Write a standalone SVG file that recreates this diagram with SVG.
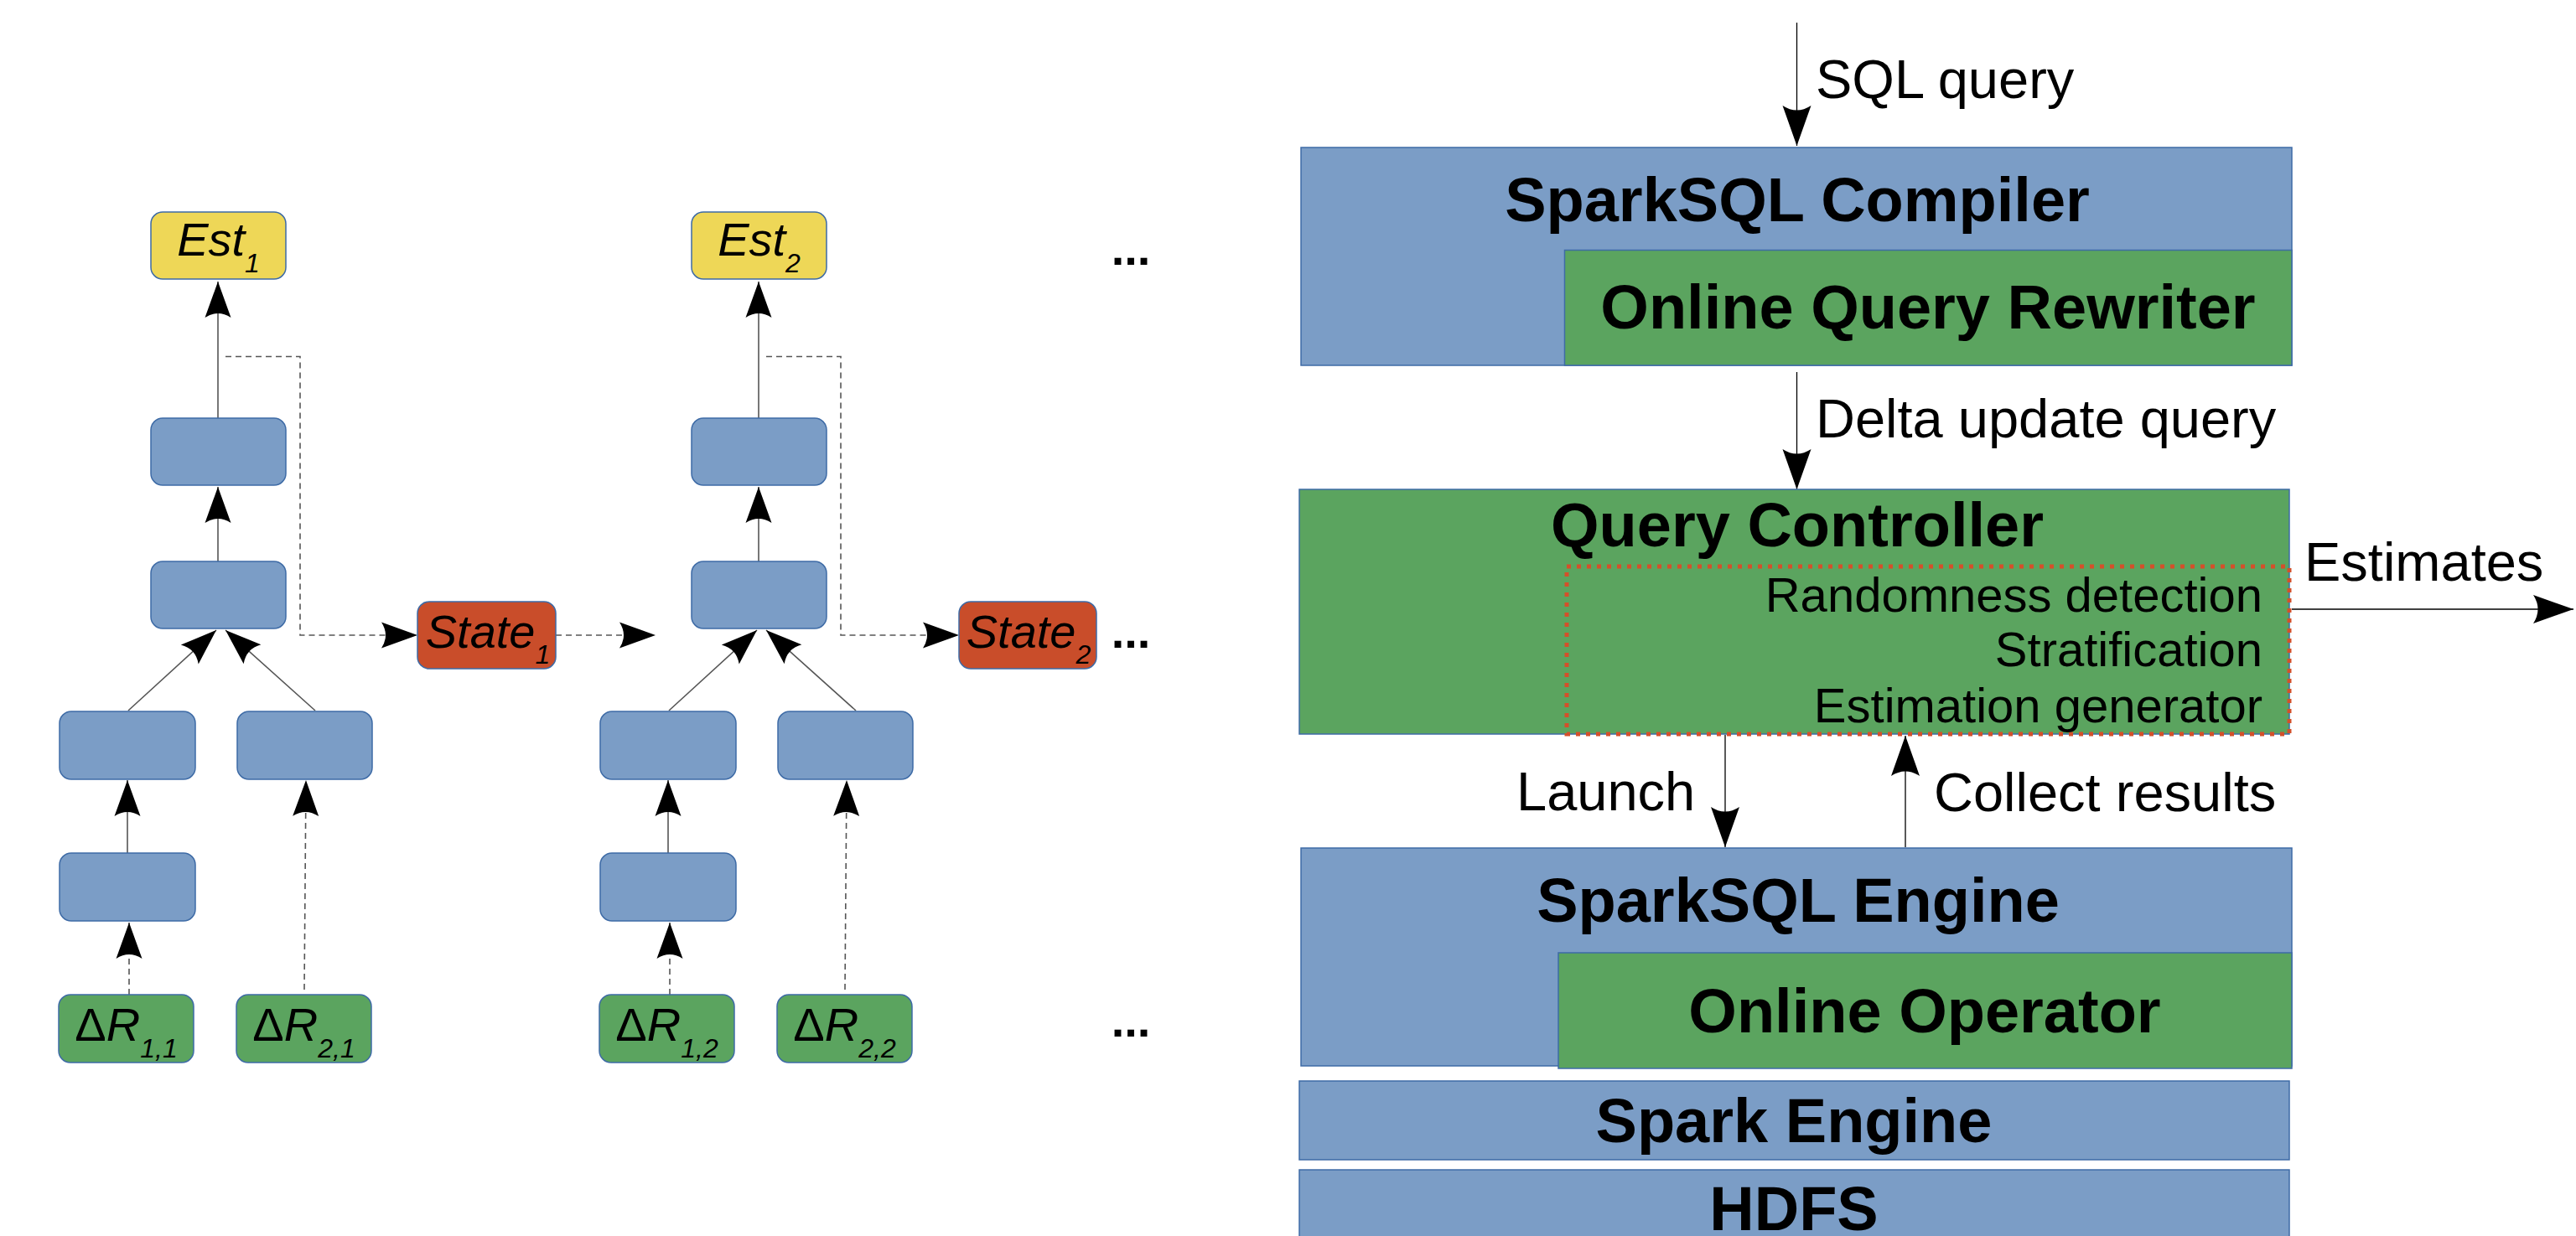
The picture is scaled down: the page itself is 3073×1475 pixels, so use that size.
<svg xmlns="http://www.w3.org/2000/svg" width="3073" height="1475" viewBox="0 0 3073 1475">
<style>
.blue{fill:#7b9dc6;stroke:#3e6ba6;stroke-width:1.5}
.green{fill:#5ba45f;stroke:#3e6ba6;stroke-width:1.5}
.yellow{fill:#eed757;stroke:#3e6ba6;stroke-width:1.5}
.orange{fill:#c94d2a;stroke:#3e6ba6;stroke-width:1.5}
.it{font-family:"Liberation Sans",Arial,sans-serif;font-style:italic;font-size:56px;fill:#000;text-anchor:middle}
.up{font-style:normal}
.sub{font-size:32px}
.dots{font-family:"Liberation Sans",Arial,sans-serif;font-weight:bold;font-size:56px;fill:#000;text-anchor:middle}
.title{font-family:"Liberation Sans",Arial,sans-serif;font-weight:bold;font-size:74px;fill:#000;text-anchor:middle}
.lbl{font-family:"Liberation Sans",Arial,sans-serif;font-size:65px;fill:#000}
.item{font-family:"Liberation Sans",Arial,sans-serif;font-size:58px;fill:#000;text-anchor:end}
.solid{fill:none;stroke:#555;stroke-width:1.6}
.dash{fill:none;stroke:#555;stroke-width:1.6;stroke-dasharray:7 5}
.blk{fill:none;stroke:#000;stroke-width:1.3}
.dotbox{fill:none;stroke:#d4502a;stroke-width:5;stroke-dasharray:5 7}
</style>
<defs>
<marker id="ah" viewBox="-45 -17 46 34" refX="0" refY="0" markerWidth="46" markerHeight="34" markerUnits="userSpaceOnUse" orient="auto">
<path d="M0,0 L-43,-15.5 Q-33,0 -43,15.5 Z" fill="#000"/>
</marker>
<marker id="ahL" viewBox="-50 -19 51 38" refX="0" refY="0" markerWidth="51" markerHeight="38" markerUnits="userSpaceOnUse" orient="auto">
<path d="M0,0 L-48,-17 Q-37,0 -48,17 Z" fill="#000"/>
</marker>
</defs>
<rect width="3073" height="1475" fill="#fff"/>

<g id="connectors">
<path class="solid" d="M260,499 V336" marker-end="url(#ah)"/>
<path class="solid" d="M260,670 V581" marker-end="url(#ah)"/>
<path class="solid" d="M153,848 L258,752" marker-end="url(#ah)"/>
<path class="solid" d="M376,848 L269,752" marker-end="url(#ah)"/>
<path class="solid" d="M152,1018 V931" marker-end="url(#ah)"/>
<path class="dash" d="M154,1187 V1101" marker-end="url(#ah)"/>
<path class="dash" d="M363,1181 L365,931" marker-end="url(#ah)"/>
<path class="dash" d="M269,425.5 H358 V758 H498" marker-end="url(#ah)"/>
<path class="dash" d="M663,758 H782" marker-end="url(#ah)"/>
<path class="solid" d="M905,499 V336" marker-end="url(#ah)"/>
<path class="solid" d="M905,670 V581" marker-end="url(#ah)"/>
<path class="solid" d="M798,848 L903,752" marker-end="url(#ah)"/>
<path class="solid" d="M1021,848 L914,752" marker-end="url(#ah)"/>
<path class="solid" d="M797,1018 V931" marker-end="url(#ah)"/>
<path class="dash" d="M799,1187 V1101" marker-end="url(#ah)"/>
<path class="dash" d="M1008,1181 L1010,931" marker-end="url(#ah)"/>
<path class="dash" d="M914,425.5 H1003 V758 H1144" marker-end="url(#ah)"/>
<path class="blk" d="M2143.5,27 V174" marker-end="url(#ahL)"/>
<path class="blk" d="M2143.5,444 V584" marker-end="url(#ahL)"/>
<path class="blk" d="M2734,727 H3070" marker-end="url(#ahL)"/>
<path class="blk" d="M2058,877 V1011" marker-end="url(#ahL)"/>
<path class="blk" d="M2273,1011 V878" marker-end="url(#ahL)"/>
</g>

<g id="est1"><rect class="yellow" x="180" y="253" width="161" height="80" rx="14"/><text class="it" x="260.5" y="305">Est<tspan class="sub" dy="20">1</tspan></text></g>
<g id="op1a"><rect class="blue" x="180" y="499" width="161" height="80" rx="14"/></g>
<g id="op1b"><rect class="blue" x="180" y="670" width="161" height="80" rx="14"/></g>
<g id="op1c"><rect class="blue" x="71" y="849" width="162" height="81" rx="14"/></g>
<g id="op1d"><rect class="blue" x="283" y="849" width="161" height="81" rx="14"/></g>
<g id="op1e"><rect class="blue" x="71" y="1018" width="162" height="81" rx="14"/></g>
<g id="dr11"><rect class="green" x="70" y="1187" width="161" height="81" rx="14"/><text class="it" x="150.5" y="1242"><tspan class="up">Δ</tspan>R<tspan class="sub" dy="20">1,1</tspan></text></g>
<g id="dr21"><rect class="green" x="282" y="1187" width="161" height="81" rx="14"/><text class="it" x="362.5" y="1242"><tspan class="up">Δ</tspan>R<tspan class="sub" dy="20">2,1</tspan></text></g>
<g id="state1"><rect class="orange" x="498" y="718" width="165" height="80" rx="14"/><text class="it" x="582" y="773">State<tspan class="sub" dy="19">1</tspan></text></g>

<g id="est2"><rect class="yellow" x="825" y="253" width="161" height="80" rx="14"/><text class="it" x="905.5" y="305">Est<tspan class="sub" dy="20">2</tspan></text></g>
<g id="op2a"><rect class="blue" x="825" y="499" width="161" height="80" rx="14"/></g>
<g id="op2b"><rect class="blue" x="825" y="670" width="161" height="80" rx="14"/></g>
<g id="op2c"><rect class="blue" x="716" y="849" width="162" height="81" rx="14"/></g>
<g id="op2d"><rect class="blue" x="928" y="849" width="161" height="81" rx="14"/></g>
<g id="op2e"><rect class="blue" x="716" y="1018" width="162" height="81" rx="14"/></g>
<g id="dr12"><rect class="green" x="715" y="1187" width="161" height="81" rx="14"/><text class="it" x="795.5" y="1242"><tspan class="up">Δ</tspan>R<tspan class="sub" dy="20">1,2</tspan></text></g>
<g id="dr22"><rect class="green" x="927" y="1187" width="161" height="81" rx="14"/><text class="it" x="1007.5" y="1242"><tspan class="up">Δ</tspan>R<tspan class="sub" dy="20">2,2</tspan></text></g>
<g id="state2"><rect class="orange" x="1144" y="718" width="164" height="80" rx="14"/><text class="it" x="1227" y="773">State<tspan class="sub" dy="19">2</tspan></text></g>

<g id="ellipses">
<text class="dots" x="1349" y="316">...</text>
<text class="dots" x="1349" y="773">...</text>
<text class="dots" x="1349" y="1237">...</text>
</g>

<g id="compiler"><rect class="blue" x="1552" y="176" width="1182" height="260"/><text class="title" x="2144" y="264">SparkSQL Compiler</text></g>
<g id="rewriter"><rect class="green" x="1866.5" y="298.5" width="867.5" height="137.5"/><text class="title" x="2300" y="392">Online Query Rewriter</text></g>
<g id="controller"><rect class="green" x="1550" y="584" width="1181" height="292"/><text class="title" x="2144" y="652">Query Controller</text>
<rect class="dotbox" x="1869" y="676" width="862" height="200"/>
<text class="item" x="2699" y="730">Randomness detection</text>
<text class="item" x="2699" y="795">Stratification</text>
<text class="item" x="2699" y="862">Estimation generator</text></g>
<g id="sqlengine"><rect class="blue" x="1552" y="1012" width="1182" height="260"/><text class="title" x="2145" y="1100">SparkSQL Engine</text></g>
<g id="onlineop"><rect class="green" x="1859" y="1137" width="875" height="138"/><text class="title" x="2296" y="1232">Online Operator</text></g>
<g id="spark"><rect class="blue" x="1550" y="1290" width="1181" height="94"/><text class="title" x="2140" y="1363">Spark Engine</text></g>
<g id="hdfs"><rect class="blue" x="1550" y="1396" width="1181" height="90"/><text class="title" x="2140" y="1468">HDFS</text></g>

<g id="labels">
<text class="lbl" x="2166" y="117">SQL query</text>
<text class="lbl" x="2166" y="522">Delta update query</text>
<text class="lbl" x="2749" y="693">Estimates</text>
<text class="lbl" x="1809" y="967">Launch</text>
<text class="lbl" x="2307" y="968">Collect results</text>
</g>
</svg>
